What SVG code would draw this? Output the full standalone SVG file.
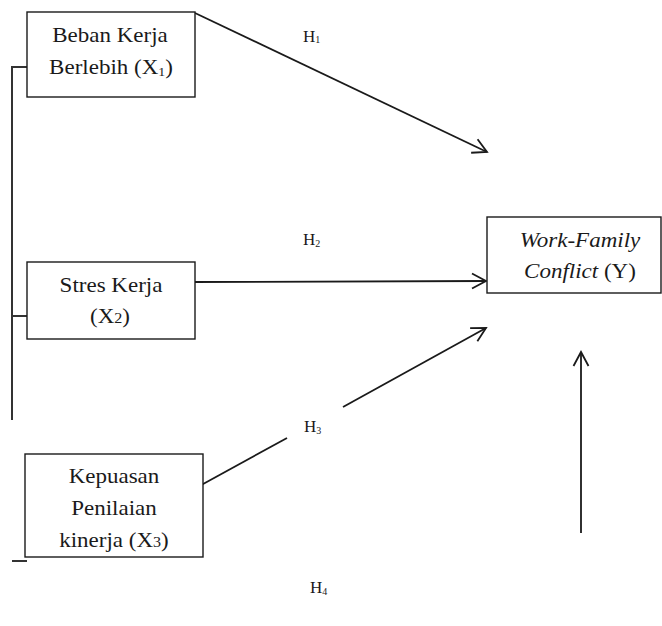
<svg xmlns="http://www.w3.org/2000/svg" width="662" height="626" viewBox="0 0 662 626">
<style>
.box{fill:#fff;stroke:#1a1a1a;stroke-width:1.4}
.t{font-family:"Liberation Serif","Times New Roman",serif;font-size:20px;fill:#1a1a1a;text-anchor:middle}
.h{font-family:"Liberation Serif","Times New Roman",serif;font-size:17px;fill:#1a1a1a}
.ln{fill:none;stroke:#1a1a1a;stroke-width:1.8}
.br{fill:none;stroke:#333;stroke-width:2}
</style>
<defs>
<marker id="arr" viewBox="-16 -9 18 18" refX="0" refY="0" markerWidth="18" markerHeight="18" markerUnits="userSpaceOnUse" orient="auto">
<path d="M-14,-7.5 L0,0 L-14,7.5" fill="none" stroke="#1a1a1a" stroke-width="1.8"/>
</marker>
</defs>
<g id="connectors">
<path class="br" d="M12,420 L12,67 L27,67"/>
<path class="br" d="M12,316 L27,316"/>
<path class="br" d="M12,561 L27,561"/>
<path class="ln" d="M195,13 L487,152" marker-end="url(#arr)"/>
<path class="ln" d="M195,282 L486,281" marker-end="url(#arr)"/>
<path class="ln" d="M194,489 L287,438"/>
<path class="ln" d="M343,407 L486,328" marker-end="url(#arr)"/>
<path class="ln" d="M581,533 L581,352" marker-end="url(#arr)"/>
</g>
<g id="x1">
<rect class="box" x="27" y="12" width="168" height="85"/>
<text class="t" transform="translate(110,42) scale(1.15,1)">Beban Kerja</text>
<text class="t" transform="translate(111,74) scale(1.15,1)">Berlebih (X<tspan font-size="12" dy="2">1</tspan><tspan dy="-2">)</tspan></text>
</g>
<g id="x2">
<rect class="box" x="27" y="262" width="168" height="77"/>
<text class="t" transform="translate(111,292) scale(1.15,1)">Stres Kerja</text>
<text class="t" transform="translate(110,323) scale(1.15,1)">(X<tspan font-size="14">2</tspan>)</text>
</g>
<g id="x3">
<rect class="box" x="25" y="454" width="178" height="103"/>
<text class="t" transform="translate(114,483) scale(1.15,1)">Kepuasan</text>
<text class="t" transform="translate(114,515) scale(1.15,1)">Penilaian</text>
<text class="t" transform="translate(114,547) scale(1.15,1)">kinerja (X<tspan font-size="14">3</tspan>)</text>
</g>
<g id="y">
<rect class="box" x="487" y="217" width="174" height="76"/>
<text class="t" transform="translate(580,247) scale(1.15,1)" font-style="italic">Work-Family</text>
<text class="t" transform="translate(580,278) scale(1.15,1)"><tspan font-style="italic">Conflict</tspan> (Y)</text>
</g>
<g id="labels">
<text class="h" x="303" y="42">H<tspan font-size="10" dy="1">1</tspan></text>
<text class="h" x="303" y="245">H<tspan font-size="10" dy="2">2</tspan></text>
<text class="h" x="304" y="432">H<tspan font-size="10" dy="2">3</tspan></text>
<text class="h" x="310" y="593">H<tspan font-size="10" dy="2">4</tspan></text>
</g>
</svg>
